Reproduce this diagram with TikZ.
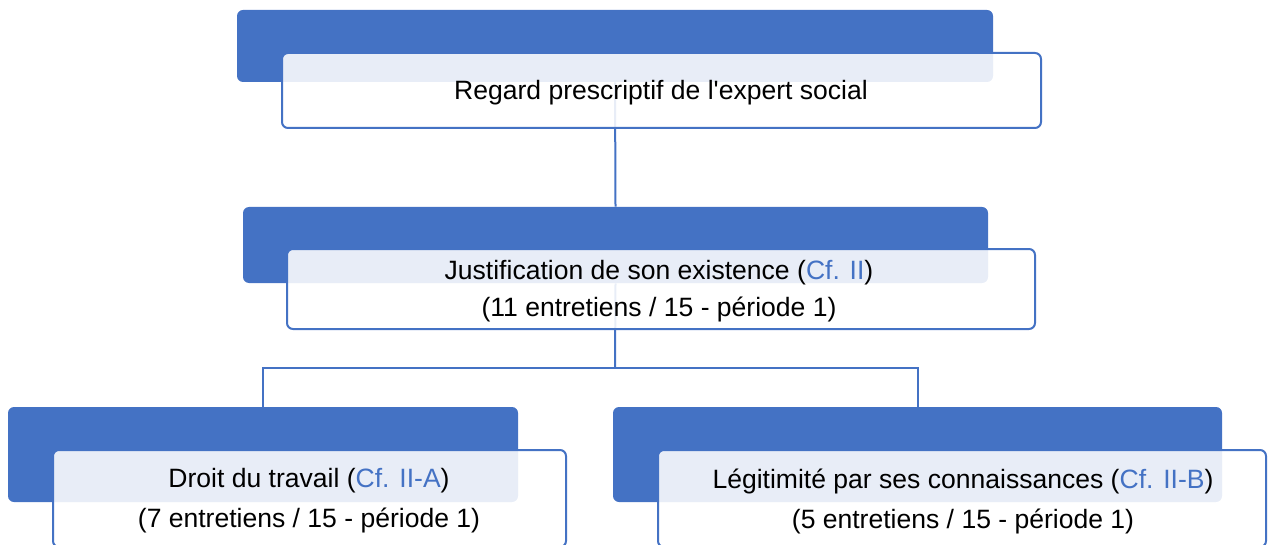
\documentclass[tikz,border=0pt]{standalone}
\usepackage{fontspec}
\setmainfont{Liberation Sans}
\usetikzlibrary{fit}
\definecolor{accent}{HTML}{4472C4}
\begin{document}
\begin{tikzpicture}[x=0.75pt,y=-0.75pt,
  bluebox/.style={fill=accent, rounded corners=4.5pt, inner sep=0pt},
  whitebox/.style={draw=accent, line width=1.5pt, fill=white, fill opacity=0.88, rounded corners=4.5pt, inner sep=0pt},
  lbl/.style={font=\fontsize{19.9}{27.75}\selectfont, align=center, text=black, inner sep=0pt},
  lblwide/.style={lbl, font=\fontsize{19.9}{30}\selectfont},
  conn/.style={draw=accent, line width=1.5pt}]
\useasboundingbox (0,0) rectangle (1269,545);
\clip (0,0) rectangle (1269,545);
% blue header boxes
\node[bluebox, fit={(237,10) (993,82)}] (b1) {};
\node[bluebox, fit={(243,207) (988,283)}] (b2) {};
\node[bluebox, fit={(8,407) (518,502)}] (b3) {};
\node[bluebox, fit={(613,407) (1222,502)}] (b4) {};
% connectors
\coordinate (split) at (615,368);
\draw[conn] (b1.south) -- (b2.north);
\draw[conn] (b2.south) -- (split);
\draw[conn] (split) -| (b3.north);
\draw[conn] (split) -| (b4.north);
% white boxes
\node[whitebox, fit={(282,53) (1041,128)}] (w1) {};
\node[whitebox, fit={(287,249) (1035,329)}] (w2) {};
\node[whitebox, fit={(53,450) (566,547)}] (w3) {};
\node[whitebox, fit={(658,450) (1266,547)}] (w4) {};
% texts
\node[lbl] (t1) at (661,93) {Regard prescriptif de l\textquotesingle expert social};
\node[lbl] (t2) at (659,291.5) {Justification de son existence (\textcolor{accent}{Cf. II})\\(11 entretiens / 15 - période 1)};
\node[lblwide] (t3) at (309,501) {Droit du travail (\textcolor{accent}{Cf. II-A})\\(7 entretiens / 15 - période 1)};
\node[lblwide] (t4) at (963,501) {Légitimité par ses connaissances (\textcolor{accent}{Cf. II-B})\\(5 entretiens / 15 - période 1)};
\end{tikzpicture}
\end{document}
